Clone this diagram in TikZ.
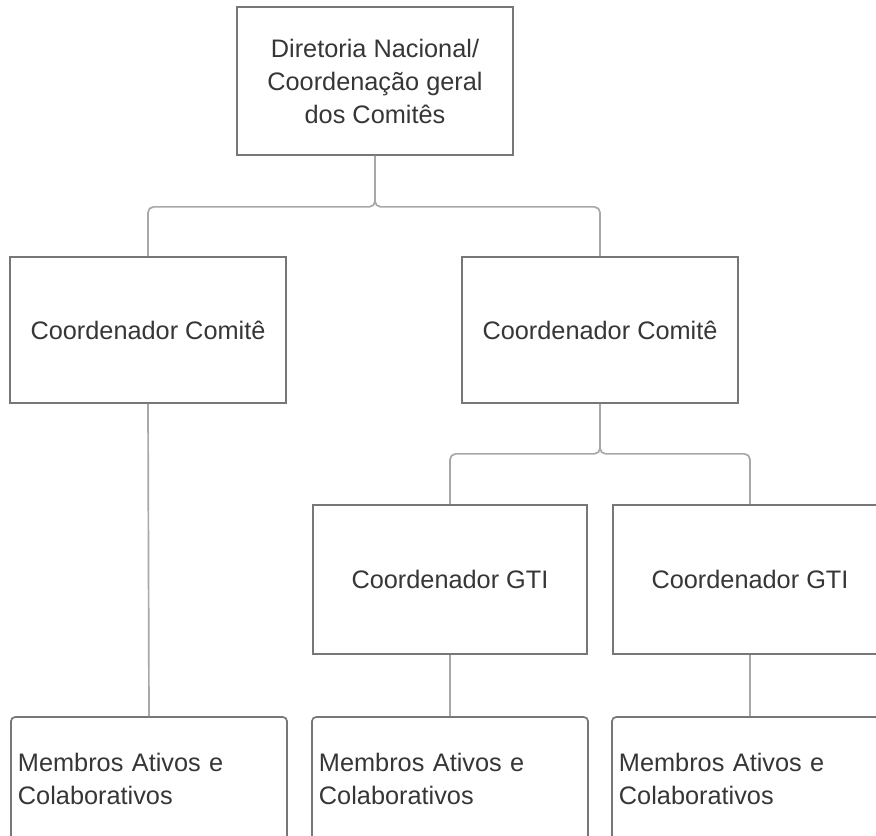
\documentclass[tikz,border=0pt]{standalone}
\usepackage{fontspec}
\setmainfont{Liberation Sans}
\definecolor{boxline}{HTML}{777777}
\definecolor{linkline}{HTML}{A8A8A8}
\definecolor{txtgray}{HTML}{363636}

\begin{document}
\begin{tikzpicture}[x=0.025cm, y=-0.025cm,
    box/.style={draw=boxline, line width=1.2pt, text=txtgray, align=center,
      font=\fontsize{18}{23.5}\selectfont, inner sep=0pt,
      minimum width=6.9cm, minimum height=3.7cm},
    memb/.style={box, rounded corners=3pt, align=left, text width=6.55cm,
      inner xsep=0.15cm, minimum height=3.1cm},
    link/.style={draw=linkline, line width=1.2pt, rounded corners=4pt}]

    \useasboundingbox (0,0) rectangle (876,836);
    \clip (0,0) rectangle (876,836);

    % Define boxes with coordinates
    \node[box] (dn) at (375,81) {Diretoria Nacional/\\Coordenação geral\\dos Comitês};
    \node[box, minimum height=3.65cm] (cc1) at (148,330) {Coordenador Comitê};
    \node[box, minimum height=3.65cm] (cc2) at (600,330) {Coordenador Comitê};
    \node[box, minimum width=6.85cm, minimum height=3.725cm] (gti1) at (450,579.5) {Coordenador GTI};
    \node[box, minimum width=6.85cm, minimum height=3.725cm] (gti2) at (750,579.5) {Coordenador GTI};
    \node[memb] (mb1) at (149,779) {Membros Ativos e\\Colaborativos};
    \node[memb] (mb2) at (450,779) {Membros Ativos e\\Colaborativos};
    \node[memb] (mb3) at (750,779) {Membros Ativos e\\Colaborativos};
    % Draw connectors between the levels
    \draw[link] (dn.south) -- ++(0,51) -| (cc1.north);
    \draw[link] (dn.south) -- ++(0,51) -| (cc2.north);
    \draw[link] (cc1.south) -- (mb1.north);
    \draw[link] (cc2.south) -- ++(0,50) -| (gti1.north);
    \draw[link] (cc2.south) -- ++(0,50) -| (gti2.north);
    \draw[link] (gti1.south) -- (mb2.north);
    \draw[link] (gti2.south) -- (mb3.north);
\end{tikzpicture}
\end{document}
